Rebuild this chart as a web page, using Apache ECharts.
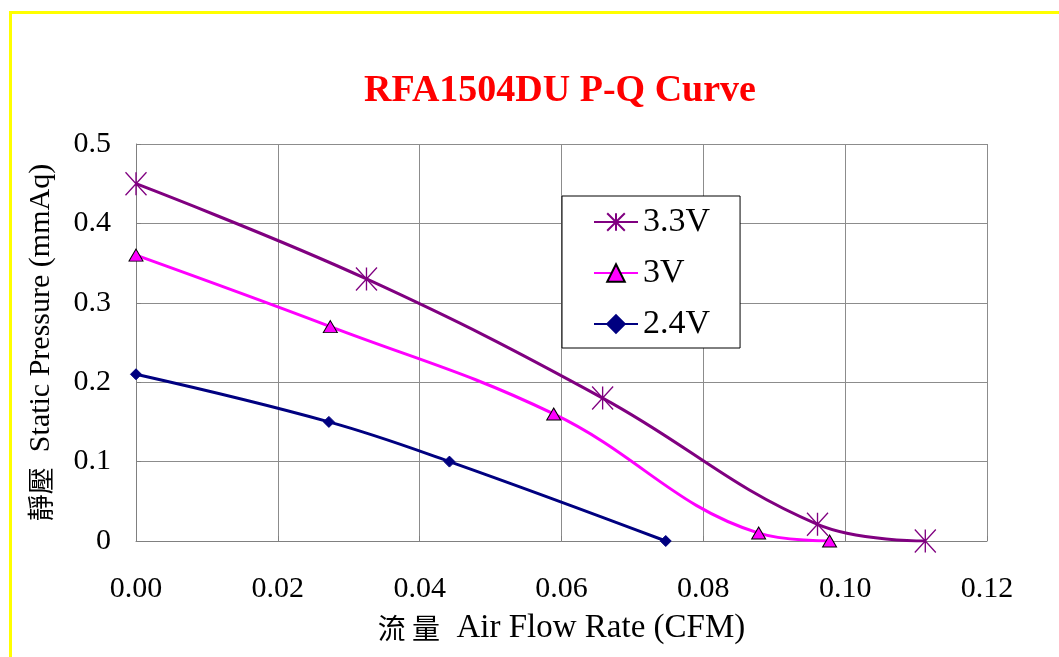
<!DOCTYPE html>
<html>
<head>
<meta charset="utf-8">
<script src="https://cdn.jsdelivr.net/npm/echarts@6/dist/echarts.min.js"></script>
<style>
html,body{margin:0;padding:0;background:#fff;}
#chart{width:1059px;height:657px;}
</style>
</head>
<body>
<div id="chart"></div>
<script>
// Data
const seriesNames = ['3.3V', '3V', '2.4V'];
const flow33 = [0.000, 0.0325, 0.0658, 0.0961, 0.1113];
const pres33 = [0.45, 0.33, 0.18, 0.021, 0.0];
const flow30 = [0.000, 0.0274, 0.0589, 0.0878, 0.0978];
const pres30 = [0.36, 0.27, 0.16, 0.01, 0.0];
const flow24 = [0.000, 0.0272, 0.0442, 0.0747];
const pres24 = [0.21, 0.15, 0.10, 0.0];

const zip = (xs, ys) => xs.map((x, i) => [x, ys[i]]);
const serif = '"Liberation Serif", "Times New Roman", serif';
const cjk = '"Noto Sans CJK TC", "Noto Sans CJK SC", sans-serif';

const chart = echarts.init(document.getElementById('chart'), null, {renderer: 'canvas'});
chart.setOption({
  backgroundColor: '#ffffff',
  animation: false,
  title: {
    text: 'RFA1504DU P-Q Curve',
    left: 555,
    top: 67,
    textAlign: 'center',
    textStyle: {color: '#ff0000', fontFamily: serif, fontWeight: 'bold', fontSize: 38}
  },
  graphic: [{
    type: 'rect', left: 8, top: 10, z: -10,
    shape: {x: 0, y: 0, width: 1100, height: 700},
    style: {fill: 'none', stroke: '#ffff00', lineWidth: 3}
  }],
  legend: {
    orient: 'vertical',
    left: 562, top: 196,
    padding: [9, 30, 7, 31],
    itemGap: 17,
    itemWidth: 44,
    itemHeight: 22,
    backgroundColor: '#ffffff',
    borderColor: '#000000',
    borderWidth: 1,
    textStyle: {fontFamily: serif, fontSize: 34, color: '#000'},
    data: seriesNames
  },
  grid: {left: 136, right: 72, top: 144, bottom: 116, containLabel: false},
  xAxis: {
    type: 'value', min: 0, max: 0.12, interval: 0.02,
    name: '{c|流 量}  {l|Air Flow Rate (CFM)}',
    nameLocation: 'middle', nameGap: 71,
    nameTextStyle: {
      fontFamily: serif, fontSize: 33, color: '#000',
      rich: {
        c: {fontFamily: cjk, fontSize: 28, color: '#000'},
        l: {fontFamily: serif, fontSize: 33, color: '#000'}
      }
    },
    axisLine: {show: true, lineStyle: {color: '#808080', width: 1}},
    axisTick: {show: true, inside: true, length: 5, lineStyle: {color: '#808080'}},
    axisLabel: {margin: 33, fontFamily: serif, fontSize: 30, color: '#000',
      formatter: v => v.toFixed(2)},
    splitLine: {show: true, lineStyle: {color: '#8c8c8c', width: 1}}
  },
  yAxis: {
    type: 'value', min: 0, max: 0.5, interval: 0.1,
    name: '{c|靜壓}  {l|Static Pressure (mmAq)}',
    nameLocation: 'middle', nameGap: 80,
    nameTextStyle: {
      fontFamily: serif, fontSize: 30, color: '#000',
      rich: {
        c: {fontFamily: cjk, fontSize: 27, color: '#000'},
        l: {fontFamily: serif, fontSize: 30, color: '#000'}
      }
    },
    axisLine: {show: true, lineStyle: {color: '#808080', width: 1}},
    axisTick: {show: true, inside: true, length: 5, lineStyle: {color: '#808080'}},
    axisLabel: {margin: 25, fontFamily: serif, fontSize: 30, color: '#000',
      formatter: v => (v === 0 ? '0' : v.toFixed(1))},
    splitLine: {show: true, lineStyle: {color: '#8c8c8c', width: 1}}
  },
  series: [
    {
      name: seriesNames[0], type: 'line', smooth: 0.4,
      data: zip(flow33, pres33),
      symbol: 'path://M0,0L20,22M20,0L0,22M10,0L10,22',
      symbolSize: [21, 23],
      lineStyle: {color: '#800080', width: 3},
      itemStyle: {color: '#800080', borderColor: '#800080', borderWidth: 1.4},
      z: 3
    },
    {
      name: seriesNames[1], type: 'line', smooth: 0.4,
      data: zip(flow30, pres30),
      symbol: 'triangle', symbolSize: [14, 12],
      lineStyle: {color: '#ff00ff', width: 3},
      itemStyle: {color: '#ff00ff', borderColor: '#000000', borderWidth: 1},
      z: 4
    },
    {
      name: seriesNames[2], type: 'line', smooth: 0.4,
      data: zip(flow24, pres24),
      symbol: 'diamond', symbolSize: 11,
      lineStyle: {color: '#000080', width: 3},
      itemStyle: {color: '#000080', borderColor: '#000080', borderWidth: 1},
      z: 5
    }
  ]
});
</script>
</body>
</html>
